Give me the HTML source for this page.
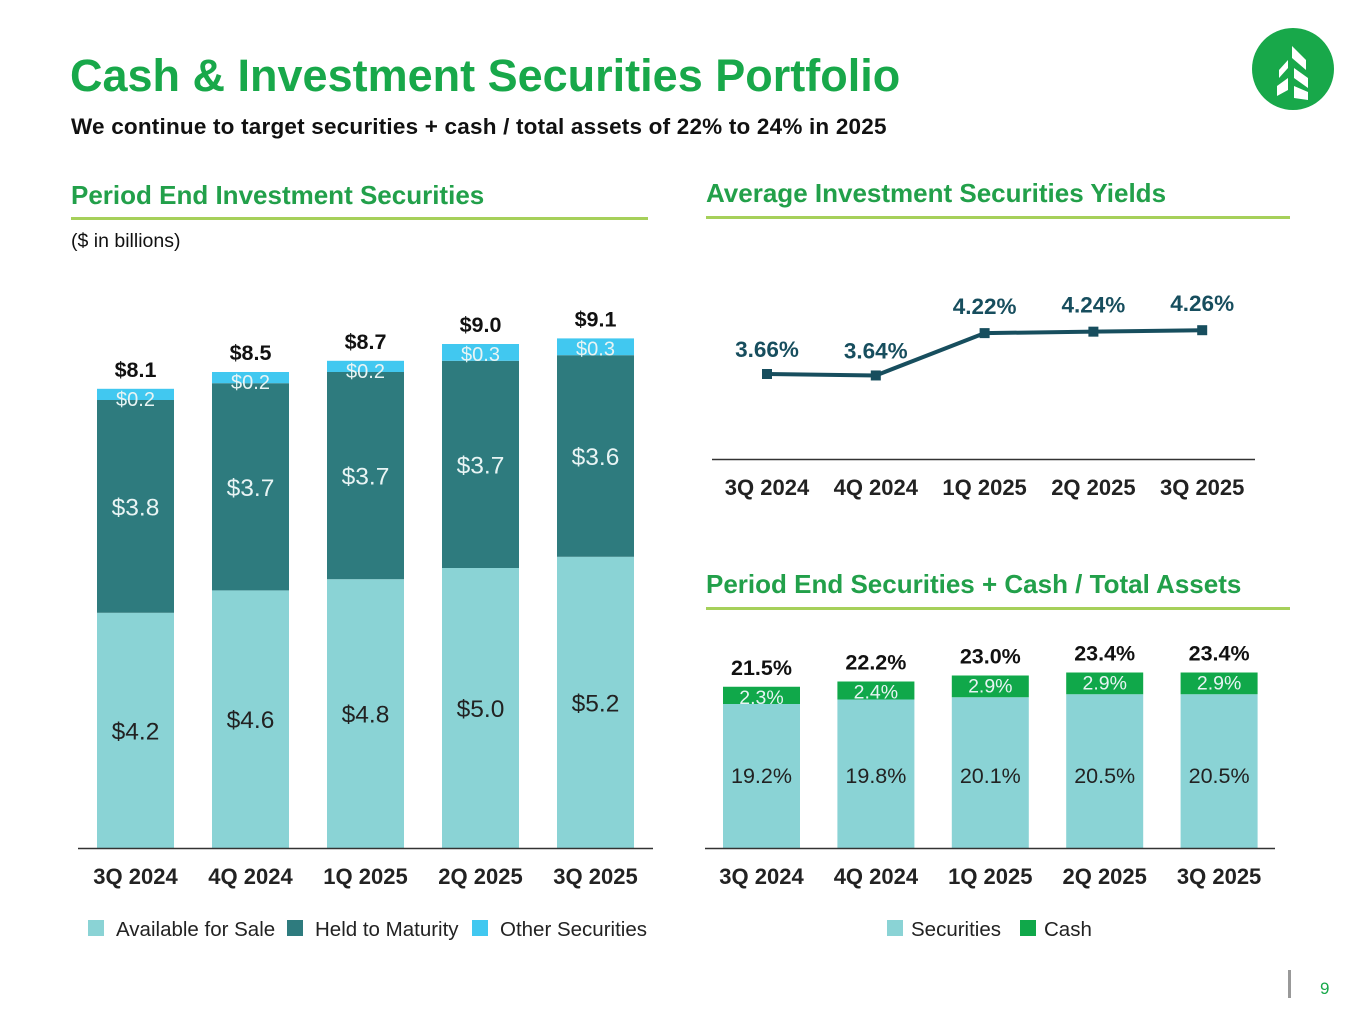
<!DOCTYPE html>
<html><head><meta charset="utf-8"><style>
body{margin:0;width:1365px;height:1024px;background:#fff;font-family:"Liberation Sans",Arial,sans-serif;overflow:hidden;position:relative}
.abs{position:absolute}
</style></head><body>
<div class="abs" style="left:70px;top:50px;font-size:45px;font-weight:bold;color:#18a84a">Cash &amp; Investment Securities Portfolio</div>
<div class="abs" style="left:71px;top:114px;font-size:22.5px;font-weight:bold;color:#111;letter-spacing:0.2px">We continue to target securities + cash / total assets of 22% to 24% in 2025</div>
<svg class="abs" style="left:1252px;top:28px" width="82" height="82" viewBox="0 0 82 82">
<circle cx="41" cy="41" r="41" fill="#18a84a"/>
<polygon points="40,18 54,32 54,42 40,30" fill="#fff"/>
<polygon points="36,32 36,40 27,50 27,42" fill="#fff"/>
<polygon points="42,40 56,50 56,60 42,50" fill="#fff"/>
<polygon points="36,50 36,62 25,68 25,58" fill="#fff"/>
<polygon points="42,58 56,64 56,72 42,70" fill="#fff"/>
</svg>
<div class="abs" style="left:71px;top:180px;font-size:26px;font-weight:bold;color:#22a04a">Period End Investment Securities</div>
<div class="abs" style="left:71px;top:217px;width:577px;height:3px;background:#a6d05a"></div>
<div class="abs" style="left:71px;top:230px;font-size:19.5px;color:#111">($ in billions)</div>
<div class="abs" style="left:706px;top:178px;font-size:26px;font-weight:bold;color:#22a04a">Average Investment Securities Yields</div>
<div class="abs" style="left:706px;top:216px;width:584px;height:3px;background:#a6d05a"></div>
<div class="abs" style="left:706px;top:569px;font-size:26px;font-weight:bold;color:#22a04a">Period End Securities + Cash / Total Assets</div>
<div class="abs" style="left:706px;top:607px;width:584px;height:3px;background:#a6d05a"></div>
<div class="abs" style="left:1288px;top:970px;width:3px;height:28px;background:#999"></div>
<div class="abs" style="left:1320px;top:979px;font-size:17px;color:#18a84a">9</div>
<svg id="chart" class="abs" style="left:0;top:0" width="1365" height="1024"></svg>
<script>
const cats=["3Q 2024","4Q 2024","1Q 2025","2Q 2025","3Q 2025"];
const afs=[4.2,4.6,4.8,5.0,5.2];
const htm=[3.8,3.7,3.7,3.7,3.6];
const oth=[0.2,0.2,0.2,0.3,0.3];
const totals=["$8.1","$8.5","$8.7","$9.0","$9.1"];
const yields=[3.66,3.64,4.22,4.24,4.26];
const secPct=[19.2,19.8,20.1,20.5,20.5];
const cashPct=[2.3,2.4,2.9,2.9,2.9];
const ratioTotals=["21.5%","22.2%","23.0%","23.4%","23.4%"];
const svg=document.getElementById('chart');const NS="http://www.w3.org/2000/svg";
function mk(t,a,txt){const e=document.createElementNS(NS,t);for(const k in a)e.setAttribute(k,a[k]);if(txt!=null)e.textContent=txt;svg.appendChild(e);return e;}
// left chart
const lx=i=>97+i*115, ly=v=>848-v*56;
cats.forEach((c,i)=>{
 const x=lx(i),w=77;
 const y1=ly(afs[i]),y2=ly(afs[i]+htm[i]),y3=ly(afs[i]+htm[i]+oth[i]);
 let r=mk('rect',{x:x,y:y1,width:w,height:848-y1,fill:'#8ad3d5'});
 
 r=mk('rect',{x:x,y:y2,width:w,height:y1-y2,fill:'#2e7b7e'});
 
 r=mk('rect',{x:x,y:y3,width:w,height:y2-y3,fill:'#41c8f0'});
 
 mk('text',{x:x+w/2,y:(y1+848)/2+9,'text-anchor':'middle','font-size':24.5,fill:'#222'},'$'+afs[i].toFixed(1));
 mk('text',{x:x+w/2,y:(y1+y2)/2+9,'text-anchor':'middle','font-size':24.5,fill:'#e8f4f4'},'$'+htm[i].toFixed(1));
 mk('text',{x:x+w/2,y:y3+17,'text-anchor':'middle','font-size':20,fill:'#e8f4f4'},'$'+oth[i].toFixed(1));
 mk('text',{x:x+w/2,y:y3-12,'text-anchor':'middle','font-size':21.5,'font-weight':'bold',fill:'#111'},totals[i]);
 mk('text',{x:x+w/2,y:884,'text-anchor':'middle','font-size':22,'font-weight':'bold',fill:'#222'},c);
});
mk('line',{x1:78,x2:653,y1:848.5,y2:848.5,stroke:'#333','stroke-width':1.5});
[['#8ad3d5','Available for Sale',88],['#2e7b7e','Held to Maturity',287],['#41c8f0','Other Securities',472]].forEach(l=>{
 mk('rect',{x:l[2],y:920,width:16,height:16,fill:l[0]});
 mk('text',{x:l[2]+28,y:936,'font-size':20.5,fill:'#222'},l[1]);
});
// yield line
const yx=i=>767+i*108.8, yy=v=>374-(v-3.66)*73;
mk('polyline',{points:yields.map((v,i)=>yx(i)+','+yy(v)).join(' '),fill:'none',stroke:'#174e5e','stroke-width':4});
yields.forEach((v,i)=>{
 const p=mk('rect',{x:yx(i)-5,y:yy(v)-5,width:10,height:10,fill:'#174e5e'});
 
 mk('text',{x:yx(i),y:yy(v)-(i<2?17:19),'text-anchor':'middle','font-size':22.5,'font-weight':'bold',fill:'#174e5e'},v.toFixed(2)+'%');
 mk('text',{x:yx(i),y:495,'text-anchor':'middle','font-size':22,'font-weight':'bold',fill:'#222'},cats[i]);
});
mk('line',{x1:712,x2:1255,y1:459.5,y2:459.5,stroke:'#333','stroke-width':1.5});
// ratio chart
const rx=i=>723+i*114.4, ry=v=>848-v*7.5;
cats.forEach((c,i)=>{
 const x=rx(i),w=77,y1=ry(secPct[i]),y2=ry(secPct[i]+cashPct[i]);
 let r=mk('rect',{x:x,y:y1,width:w,height:848-y1,fill:'#8ad3d5'});
 
 r=mk('rect',{x:x,y:y2,width:w,height:y1-y2,fill:'#10a84a'});
 
 mk('text',{x:x+w/2,y:783,'text-anchor':'middle','font-size':21.5,fill:'#222'},secPct[i].toFixed(1)+'%');
 mk('text',{x:x+w/2,y:y2+17,'text-anchor':'middle','font-size':19.5,fill:'#e8f4f4'},cashPct[i].toFixed(1)+'%');
 mk('text',{x:x+w/2,y:y2-12,'text-anchor':'middle','font-size':21.5,'font-weight':'bold',fill:'#111'},ratioTotals[i]);
 mk('text',{x:x+w/2,y:884,'text-anchor':'middle','font-size':22,'font-weight':'bold',fill:'#222'},c);
});
mk('line',{x1:705,x2:1275,y1:848.5,y2:848.5,stroke:'#333','stroke-width':1.5});
[['#8ad3d5','Securities',887],['#10a84a','Cash',1020]].forEach(l=>{
 mk('rect',{x:l[2],y:920,width:16,height:16,fill:l[0]});
 mk('text',{x:l[2]+24,y:936,'font-size':20.5,fill:'#222'},l[1]);
});
</script>
</body></html>
